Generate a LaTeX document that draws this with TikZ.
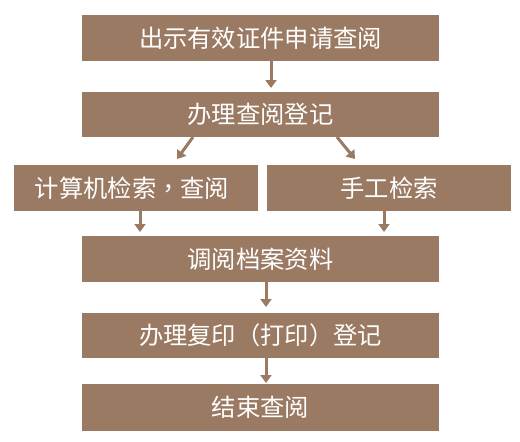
\documentclass[tikz,border=0pt]{standalone}
\usepackage{fontspec}
\newfontfamily\cjk{Noto Sans CJK SC}
\newfontfamily\cjktc{Noto Sans CJK TC}
\usetikzlibrary{arrows.meta}
\definecolor{boxbrown}{HTML}{9A7A63}
\begin{document}
\begin{tikzpicture}[x=1pt,y=-1pt,
  stepbox/.style={fill=boxbrown,draw=none,text=white,font=\cjk\fontsize{24.3}{24.3}\selectfont,inner sep=0pt},
  conn/.style={draw=boxbrown,line width=3pt,-{Triangle[width=11pt,length=8pt]}}]
\path[use as bounding box,fill=white] (0,0) rectangle (520,442);
\node[stepbox,minimum width=357pt,minimum height=46pt] (b1) at (260.5,38) {出示有效证件申请查阅};
\node[stepbox,minimum width=357pt,minimum height=45pt] (b2) at (260.5,114) {办理查阅登记};
\node[stepbox,minimum width=244pt,minimum height=46pt] (b3) at (136,188) {\hspace*{-8pt}计算机检索{\cjktc ，}查阅};
\node[stepbox,minimum width=244pt,minimum height=46pt] (b4) at (389,188) {手工检索};
\node[stepbox,minimum width=357pt,minimum height=46pt] (b5) at (260.5,259) {调阅档案资料};
\node[stepbox,minimum width=357pt,minimum height=45pt] (b6) at (260.5,335.5) {办理复印{\cjktc （}打印{\cjktc ）}登记};
\node[stepbox,minimum width=357pt,minimum height=47pt] (b7) at (260.5,407.5) {结束查阅};
\coordinate (a1) at (271,88);
\coordinate (a2l0) at (193,137);
\coordinate (a2l) at (177,159);
\coordinate (a2r0) at (337,137);
\coordinate (a2r) at (355,159);
\coordinate (a3l) at (140,232);
\coordinate (a3r) at (384,232);
\coordinate (a4) at (266,307);
\coordinate (a5) at (266,383);
\draw[conn] (b1.south -| a1) -- (a1);
\draw[conn] (a2l0) -- (a2l);
\draw[conn] (a2r0) -- (a2r);
\draw[conn] (b3.south -| a3l) -- (a3l);
\draw[conn] (b4.south -| a3r) -- (a3r);
\draw[conn] (b5.south -| a4) -- (a4);
\draw[conn] (b6.south -| a5) -- (a5);
\end{tikzpicture}
\end{document}
